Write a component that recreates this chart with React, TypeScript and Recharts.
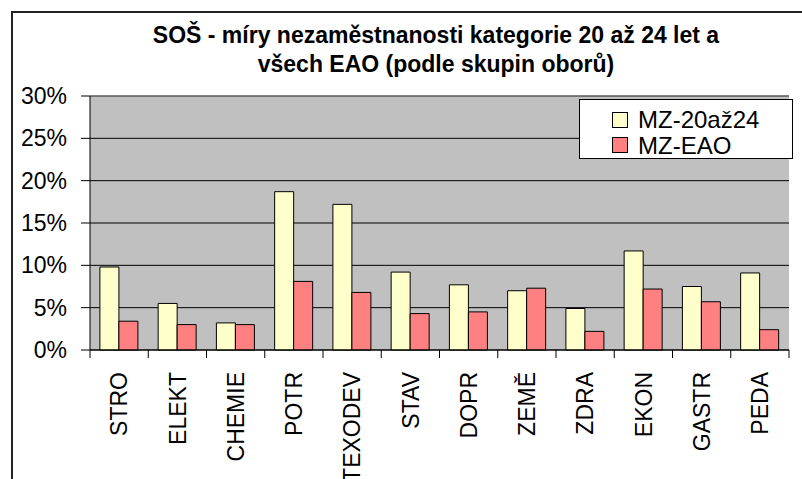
import React from "react";
import { BarChart, Bar, XAxis, YAxis, CartesianGrid, Legend, ReferenceLine } from "recharts";

const categories = ["STRO", "ELEKT", "CHEMIE", "POTR", "TEXODEV", "STAV", "DOPR", "ZEMĚ", "ZDRA", "EKON", "GASTR", "PEDA"];
const mz20az24 = [0.098, 0.055, 0.032, 0.187, 0.172, 0.092, 0.077, 0.070, 0.049, 0.117, 0.075, 0.091];
const mzEAO = [0.034, 0.030, 0.030, 0.081, 0.068, 0.043, 0.045, 0.073, 0.022, 0.072, 0.057, 0.024];
const yTicks = [0, 0.05, 0.1, 0.15, 0.2, 0.25, 0.3];
const titleLines = ["SOŠ - míry nezaměstnanosti kategorie 20 až 24 let a", "všech EAO (podle skupin oborů)"];

const data = categories.map((c, i) => ({ name: c, a: mz20az24[i], b: mzEAO[i] }));

const FONT = "'Liberation Sans', Arial, sans-serif";
const W = 802;
const H = 479;
const M = { top: 96, right: 13, left: 12, bottom: 0 };
const YW = 78;
const PLOT_W = W - M.left - M.right - YW;

const XTick = (props: any) => {
  const { x, y, payload, index } = props;
  const n = categories.length;
  const bw = PLOT_W / n;
  return (
    <g>
      <line x1={x - bw / 2} x2={x - bw / 2} y1={y} y2={y + 8} stroke="#000" />
      {index === n - 1 && <line x1={x + bw / 2} x2={x + bw / 2} y1={y} y2={y + 8} stroke="#000" />}
      <text
        x={x}
        y={y + 22}
        transform={`rotate(-90, ${x}, ${y + 22})`}
        textAnchor="end"
        dy="0.36em"
        fontSize={23}
        fontFamily={FONT}
        fill="#000"
      >
        {payload.value}
      </text>
    </g>
  );
};

const LegendContent = (props: any) => {
  const { payload } = props;
  return (
    <div
      style={{
        border: "1px solid #000",
        background: "#fff",
        width: 212,
        height: 58,
        boxSizing: "content-box",
      }}
    >
      <div style={{ paddingLeft: 32, paddingTop: 7 }}>
        {(payload || []).map((p: any) => (
          <div key={p.value} style={{ display: "flex", alignItems: "center", height: 25.5 }}>
            <span
              style={{
                display: "inline-block",
                width: 14,
                height: 14,
                background: p.color,
                border: "1px solid #000",
                marginRight: 10,
              }}
            />
            <span style={{ fontSize: 24, fontFamily: FONT, color: "#000", lineHeight: "25px" }}>{p.value}</span>
          </div>
        ))}
      </div>
    </div>
  );
};

export default function App() {
  return (
    <div style={{ position: "absolute", left: 0, top: 0, width: W, height: H, overflow: "hidden", background: "#fff" }}>
      <div
        style={{
          position: "absolute",
          left: 11,
          top: 11,
          width: W,
          height: H,
          borderLeft: "2px solid #222",
          borderTop: "2px solid #222",
        }}
      />
      <div
        style={{
          position: "absolute",
          left: 106,
          top: 21,
          width: 660,
          textAlign: "center",
          fontFamily: FONT,
          fontWeight: "bold",
          fontSize: 23,
          lineHeight: "29px",
          color: "#000",
        }}
      >
        {titleLines.map((t) => (
          <div key={t}>{t}</div>
        ))}
      </div>
      <div style={{ position: "absolute", left: 0, top: 0 }}>
        <BarChart width={W} height={H} data={data} margin={M} barCategoryGap="17%" barGap={0}>
          <CartesianGrid vertical={false} stroke="#000" fill="#C0C0C0" fillOpacity={1} />
          <XAxis
            dataKey="name"
            height={129}
            interval={0}
            tickLine={false}
            tickSize={0}
            tickMargin={0}
            axisLine={{ stroke: "#000" }}
            tick={<XTick />}
          />
          <YAxis
            width={YW}
            domain={[0, 0.3]}
            ticks={yTicks}
            tickSize={9}
            tickMargin={14}
            interval={0}
            tickFormatter={(v: number) => `${Math.round(v * 100)}%`}
            tick={{ fontSize: 23, fontFamily: FONT, fill: "#000" }}
            axisLine={{ stroke: "#000" }}
            tickLine={{ stroke: "#000" }}
          />
          <YAxis yAxisId="r" orientation="right" width={0} domain={[0, 0.3]} tick={false} tickLine={false} axisLine={{ stroke: "#808080" }} />
          <ReferenceLine y={0.3} stroke="#808080" />
          <Legend
            layout="vertical"
            content={<LegendContent />}
            wrapperStyle={{ position: "absolute", left: 579, top: 99, width: 0, height: 0, overflow: "visible" }}
          />
          <Bar dataKey="a" name="MZ-20až24" fill="#FFFFCC" stroke="#000" strokeWidth={1} isAnimationActive={false} />
          <Bar dataKey="b" name="MZ-EAO" fill="#FF8080" stroke="#000" strokeWidth={1} isAnimationActive={false} />
        </BarChart>
      </div>
    </div>
  );
}
